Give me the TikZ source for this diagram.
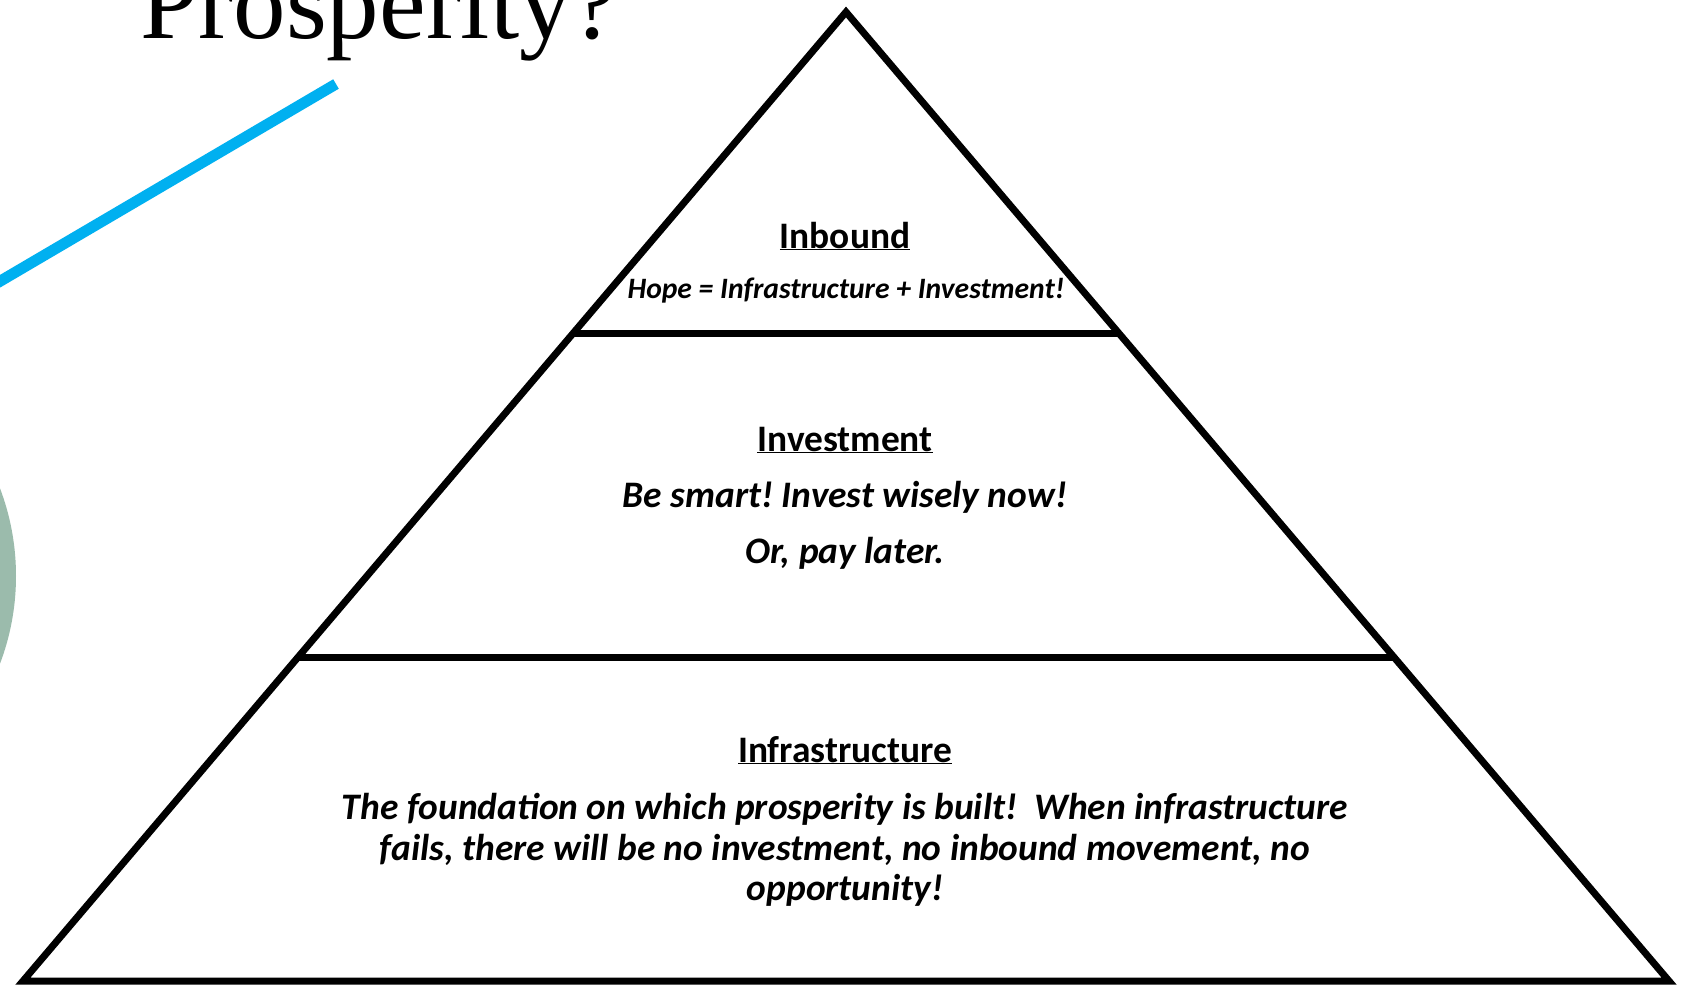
\documentclass[tikz,border=0pt]{standalone}
\usepackage{fontspec}
\setmainfont{Carlito}
\newfontfamily\titlefont{Liberation Serif}
\definecolor{skyline}{RGB}{0,176,240}
\definecolor{sage}{RGB}{155,187,172}
\begin{document}
\begin{tikzpicture}[x=1pt,y=-1pt,
  pyr/.style={draw=black,line width=7pt,line join=miter},
  head/.style={anchor=base,inner sep=0pt,font=\fontsize{37.4}{44}\selectfont\bfseries},
  body/.style={anchor=base,inner sep=0pt,font=\fontsize{37.4}{41}\selectfont\bfseries\itshape\frenchspacing,align=center},
]
\useasboundingbox (0,0) rectangle (1683,986);
\clip (0,0) rectangle (1683,986);
\fill[white] (0,0) rectangle (1683,986);
% decorations
\fill[sage] (-231,576) circle (247);
\draw[skyline,line width=11pt] (336,84) -- (-20,293);
\node[anchor=base west,inner sep=0pt,font=\titlefont\fontsize{105}{110}\selectfont] (title) at (140,38) {Prosperity?};
% pyramid
\coordinate (A) at (846,12);
\coordinate (L) at (23,981);
\coordinate (R) at (1669,981);
\draw[pyr] (A) -- (L) -- (R) -- cycle;
\coordinate (d1l) at (573.3,333);
\coordinate (d1r) at (1118.7,333);
\coordinate (d2l) at (298.2,657);
\coordinate (d2r) at (1393.8,657);
\draw[pyr] (d1l) -- (d1r);
\draw[pyr] (d2l) -- (d2r);
% texts
\node[head] (h1) at (845,248) {\underline{Inbound}};
\node[body,font=\fontsize{29.6}{34}\selectfont\bfseries\itshape\frenchspacing] (t1) at (846,298) {Hope = Infrastructure + Investment!};
\node[head] (h2) at (845,451) {\underline{Investment}};
\node[body] (t2a) at (845,507) {Be smart! Invest wisely now!};
\node[body] (t2b) at (845,563) {Or, pay later.};
\node[head] (h3) at (845,762) {\underline{Infrastructure}};
\node[body] (t3a) at (845,819) {The foundation on which prosperity is built!\ \ When infrastructure};
\node[body] (t3b) at (845,860) {fails, there will be no investment, no inbound movement, no};
\node[body] (t3c) at (845,900) {opportunity!};
\end{tikzpicture}
\end{document}
